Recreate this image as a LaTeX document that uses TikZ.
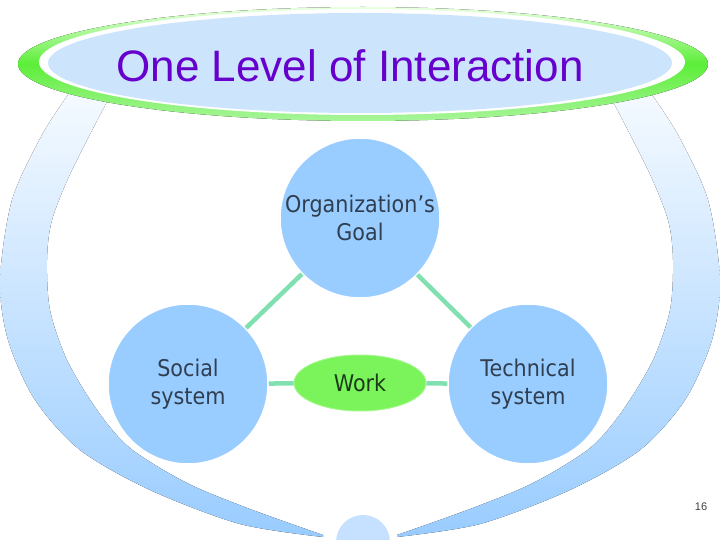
\documentclass[tikz,border=0pt]{standalone}
\usepackage{fontspec}
\usepackage{tikz}
\usetikzlibrary{shapes.geometric}
\newfontfamily\titlefont{Liberation Sans}
\newfontfamily\bodyfont{DejaVu Sans}[FakeStretch=0.9]
\definecolor{circleblue}{HTML}{99CCFF}
\definecolor{bandtop}{HTML}{F5FAFF}
\definecolor{dotblue}{HTML}{C6E0FF}
\definecolor{titleblue}{HTML}{CDE5FC}
\definecolor{titlepurple}{HTML}{6600CC}
\definecolor{ringgreen}{HTML}{5CEE38}
\definecolor{ringtop}{HTML}{E8FFE0}
\definecolor{ringbottom}{HTML}{A8F59A}
\definecolor{workgreen}{HTML}{7AF45A}
\definecolor{linkgreen}{HTML}{80E0B0}
\definecolor{textgray}{HTML}{2F3E50}
\definecolor{worktext}{HTML}{1A3A1A}

\begin{document}
\begin{tikzpicture}[x=1pt,y=-1pt,
  sphere/.style={circle, fill=circleblue, draw=white, line width=1.5pt,
    minimum size=160pt, inner sep=0pt, align=center, text=textgray,
    font=\bodyfont\fontsize{23}{28}\selectfont},
  link/.style={draw=linkgreen, line width=4.5pt}]
\useasboundingbox (0,0) rectangle (720,540);
\clip (0,0) rectangle (720,540);

% background bands
\foreach \flip in {1,-1}
{
\begin{scope}[xshift={(1-\flip)*360pt}, xscale=\flip]
\fill[top color=bandtop, bottom color=circleblue]
  plot[smooth] coordinates {(70,92) (42,135) (12,200) (0,280) (8,340) (35,400) (80,450) (150,490) (240,524) (323,537)}
  -- plot[smooth] coordinates {(323,535) (250,509) (187,483) (130,448) (97,410) (67,360) (50,310) (47,260) (52,220) (72,170) (112,92)}
  -- cycle;
\end{scope}
}
\fill[dotblue] (363,542) circle [radius=27];

% title
\fill[top color=ringtop, bottom color=ringbottom, middle color=ringgreen] (363,64) ellipse [x radius=345, y radius=57];
\fill[white] (362,62) ellipse [x radius=323, y radius=53];
\fill[titleblue] (360,63) ellipse [x radius=312, y radius=50];
\node[font=\titlefont\fontsize{44}{50}\selectfont, text=titlepurple] (title) at (350,66) {One Level of Interaction};

\node[sphere] (goal) at (360,218) {Organization’s\\Goal};
\node[sphere] (social) at (188,384) {Social\\system};
\node[sphere] (technical) at (528,384) {Technical\\system};
\node[ellipse, fill=workgreen, draw=workgreen!70!white, line width=1pt,
  minimum width=132pt, minimum height=56pt, inner sep=0pt, text=worktext,
  font=\bodyfont\fontsize{23}{28}\selectfont] (work) at (360,383) {Work};

\draw[link] (social) -- (goal);
\draw[link] (goal) -- (technical);
\draw[link] (social) -- (work);
\draw[link] (work) -- (technical);

\node[font=\titlefont\fontsize{11}{13}\selectfont, text=darkgray] (page) at (701,507) {16};
\end{tikzpicture}
\end{document}
